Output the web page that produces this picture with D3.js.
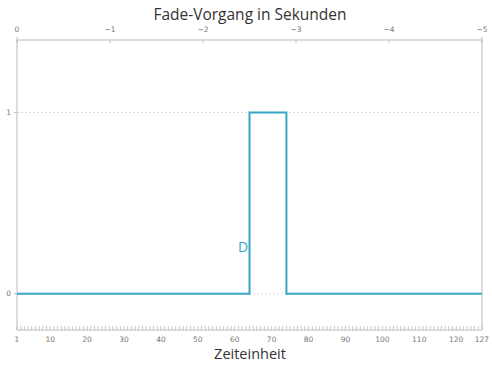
<!DOCTYPE html>
<html><head><meta charset="utf-8">
<script src="https://cdn.jsdelivr.net/npm/d3@7"></script>
<style>body{margin:0;background:#fff;}svg{display:block;font-family:"DejaVu Sans",sans-serif;}</style>
</head><body>
<svg id="c" width="492" height="369"></svg>
<script>
const title = "Fade-Vorgang in Sekunden";
const xTitle = "Zeiteinheit";
const stepX = [1, 64, 74, 127];
const stepY = [0, 1, 0, 0];
const seriesLabel = "D";
const labelAt = [62.5, 0.25];
const xTickValues = [1, 10, 20, 30, 40, 50, 60, 70, 80, 90, 100, 110, 120, 127];
const topTickValues = [0, 1, 2, 3, 4, 5];
const topTickLabels = ["0", "~1", "~2", "~3", "~4", "~5"];
const yTickValues = [0, 1];

const svg = d3.select("#c");
const L = 17, R = 482, T = 40, B = 330;
const x = d3.scaleLinear().domain([1, 127]).range([L, R]);
const xs = d3.scaleLinear().domain([0, 5]).range([L, R]);
const y = d3.scaleLinear().domain([-0.2, 1.4]).range([B, T]);
const axisCol = "#bbb", txtCol = "#777", lineCol = "#34a7c6";

svg.append("g").selectAll("line").data(yTickValues).join("line")
  .attr("x1", L).attr("x2", R).attr("y1", d => y(d)).attr("y2", d => y(d))
  .attr("stroke", "#ddd").attr("stroke-dasharray", "2,2");

svg.append("line").attr("x1", L).attr("x2", L).attr("y1", T - 3).attr("y2", B).attr("stroke", axisCol);
svg.append("line").attr("x1", R).attr("x2", R).attr("y1", T - 3).attr("y2", B).attr("stroke", axisCol);

const minor = d3.range(1, 128);
svg.append("g").selectAll("line").data(minor).join("line")
  .attr("x1", d => x(d)).attr("x2", d => x(d)).attr("y1", B - 4).attr("y2", B)
  .attr("stroke", axisCol).attr("stroke-width", 0.8);
svg.append("line").attr("x1", L).attr("x2", R).attr("y1", B).attr("y2", B).attr("stroke", axisCol);
svg.append("g").selectAll("text").data(xTickValues).join("text")
  .attr("x", d => x(d)).attr("y", B + 12).attr("text-anchor", "middle")
  .attr("font-size", 7.5).attr("fill", txtCol).text(d => d);

svg.append("line").attr("x1", L).attr("x2", R).attr("y1", T).attr("y2", T).attr("stroke", axisCol);
svg.append("g").selectAll("line").data(topTickValues).join("line")
  .attr("x1", d => xs(d)).attr("x2", d => xs(d)).attr("y1", T).attr("y2", T + 3).attr("stroke", axisCol);
svg.append("g").selectAll("text").data(topTickValues).join("text")
  .attr("x", d => xs(d)).attr("y", T - 8).attr("text-anchor", "middle")
  .attr("font-size", 7.5).attr("fill", txtCol).text((d, i) => topTickLabels[i]);

svg.append("g").selectAll("line").data(yTickValues).join("line")
  .attr("x1", L - 3).attr("x2", L).attr("y1", d => y(d)).attr("y2", d => y(d)).attr("stroke", axisCol);
svg.append("g").selectAll("text").data(yTickValues).join("text")
  .attr("x", L - 6).attr("y", d => y(d) + 2.5).attr("text-anchor", "end")
  .attr("font-size", 7.5).attr("fill", txtCol).text(d => d);

const pts = stepX.map((d, i) => [d, stepY[i]]);
svg.append("path").datum(pts)
  .attr("d", d3.line().x(d => x(d[0])).y(d => y(d[1])).curve(d3.curveStepAfter))
  .attr("fill", "none").attr("stroke", lineCol).attr("stroke-width", 2);

svg.append("text").attr("x", x(labelAt[0]) - 1).attr("y", y(labelAt[1]) + 4)
  .attr("text-anchor", "middle").attr("font-size", 14).attr("font-family", "Open Sans")
  .attr("fill", lineCol).text(seriesLabel);

svg.append("text").attr("x", 250).attr("y", 20).attr("text-anchor", "middle")
  .attr("font-size", 15.5).attr("font-family", "Open Sans").attr("fill", "#333").text(title);
svg.append("text").attr("x", 250).attr("y", 359).attr("text-anchor", "middle")
  .attr("font-size", 14.5).attr("font-family", "Open Sans").attr("fill", "#333").text(xTitle);
</script>
</body></html>
